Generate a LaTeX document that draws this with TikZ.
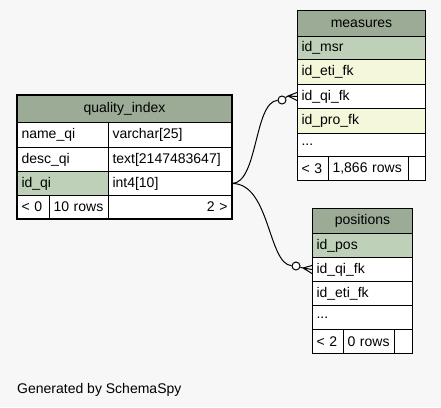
\documentclass[tikz,border=0pt]{standalone}
\usepackage{fontspec}
\setmainfont{Liberation Sans}
\definecolor{headgreen}{HTML}{9BAB96}
\definecolor{pkgreen}{HTML}{BED1B8}
\definecolor{idxyellow}{HTML}{F4F7DA}
\definecolor{pagegray}{HTML}{F7F7F7}
\begin{document}
\begin{tikzpicture}[x=1pt,y=-1pt,
	cell/.style 2 args={draw, line width=1pt, fill=white, anchor=north west, inner xsep=4pt, inner ysep=0pt,
		minimum width=#1pt, minimum height=#2pt, text width={#1pt-8pt}, align=left,
		font=\fontsize{14}{16}\selectfont},
	head/.style={fill=headgreen, align=center},
	pk/.style={fill=pkgreen},
	idx/.style={fill=idxyellow},
	odot/.style={draw, circle, fill=white, line width=1pt, inner sep=0pt, minimum size=8pt},
	link/.style={line width=1pt}]
		  		\fill[pagegray] (0,0) rectangle (441,407);
		  		\useasboundingbox (0,0) rectangle (441,407);
		  		
		  		\node[cell={214}{27}, head] (qi_head) at (17,95) {quality\_index};
		  		\node[cell={91}{25}] (qi_name) at (17,122) {name\_qi};
		  		\node[cell={123}{25}] (qi_namet) at (108,122) {varchar[25]};
		  		\node[cell={91}{24}] (qi_desc) at (17,147) {desc\_qi};
		  		\node[cell={123}{24}] (qi_desct) at (108,147) {text[2147483647]};
		  		\node[cell={91}{24}, pk] (qi_id) at (17,171) {id\_qi};
		  		\node[cell={123}{24}] (qi_idt) at (108,171) {int4[10]};
		  		\node[cell={32}{23}] (qi_par) at (17,195) {< 0};
		  		\node[cell={59}{23}] (qi_rows) at (49,195) {10 rows};
		  		\node[cell={123}{23}, align=right] (qi_chi) at (108,195) {2 >};
		  		\draw[line width=2.5pt] (qi_head.north west) rectangle (qi_chi.south east);
		  		
		  		\node[cell={128}{26}, head] (ms_head) at (297,10) {measures};
		  		\node[cell={128}{23}, pk] (ms_id) at (297,36) {id\_msr};
		  		\node[cell={128}{25}, idx] (ms_eti) at (297,59) {id\_eti\_fk};
		  		\node[cell={128}{24}] (ms_qi) at (297,84) {id\_qi\_fk};
		  		\node[cell={128}{25}, idx] (ms_pro) at (297,108) {id\_pro\_fk};
		  		\node[cell={128}{23}] (ms_more) at (297,133) {...};
		  		\node[cell={31}{24}] (ms_par) at (297,156) {< 3};
		  		\node[cell={80}{24}] (ms_rows) at (328,156) {1,866 rows};
		  		\node[cell={17}{24}] (ms_chi) at (408,156) {};
		  		
		  		\node[cell={100}{25}, head] (ps_head) at (312,208) {positions};
		  		\node[cell={100}{24}, pk] (ps_id) at (312,233) {id\_pos};
		  		\node[cell={100}{24}] (ps_qi) at (312,257) {id\_qi\_fk};
		  		\node[cell={100}{24}] (ps_eti) at (312,281) {id\_eti\_fk};
		  		\node[cell={100}{24}] (ps_more) at (312,305) {...};
		  		\node[cell={31}{24}] (ps_par) at (312,329) {< 2};
		  		\node[cell={51}{24}] (ps_rows) at (343,329) {0 rows};
		  		\node[cell={18}{24}] (ps_chi) at (394,329) {};
		  		
		  		\node[odot] (m_dot) at (282,100) {};
		  		\coordinate (m_apex) at (288,96);
		  		\draw[link] (qi_idt.east) .. controls (258,183) and (254,102) .. (m_dot);
		  		\draw[link] (m_dot) -- (m_apex);
		  		\draw[link] (m_apex) -- ([yshift=4pt]ms_qi.west) (m_apex) -- (ms_qi.west) (m_apex) -- ([yshift=-4pt]ms_qi.west);
		  		
		  		\node[odot] (p_dot) at (296,266) {};
		  		\coordinate (p_apex) at (303,268);
		  		\draw[link] (qi_idt.east) .. controls (270,183) and (268,264) .. (p_dot);
		  		\draw[link] (p_dot) -- (p_apex);
		  		\draw[link] (p_apex) -- ([yshift=4pt]ps_qi.west) (p_apex) -- (ps_qi.west) (p_apex) -- ([yshift=-4pt]ps_qi.west);
		  		
		  		\node[anchor=base west, inner sep=0pt, font=\fontsize{14}{16}\selectfont] (gen) at (17,393) {Generated by SchemaSpy};
		  	\end{tikzpicture}
\end{document}
